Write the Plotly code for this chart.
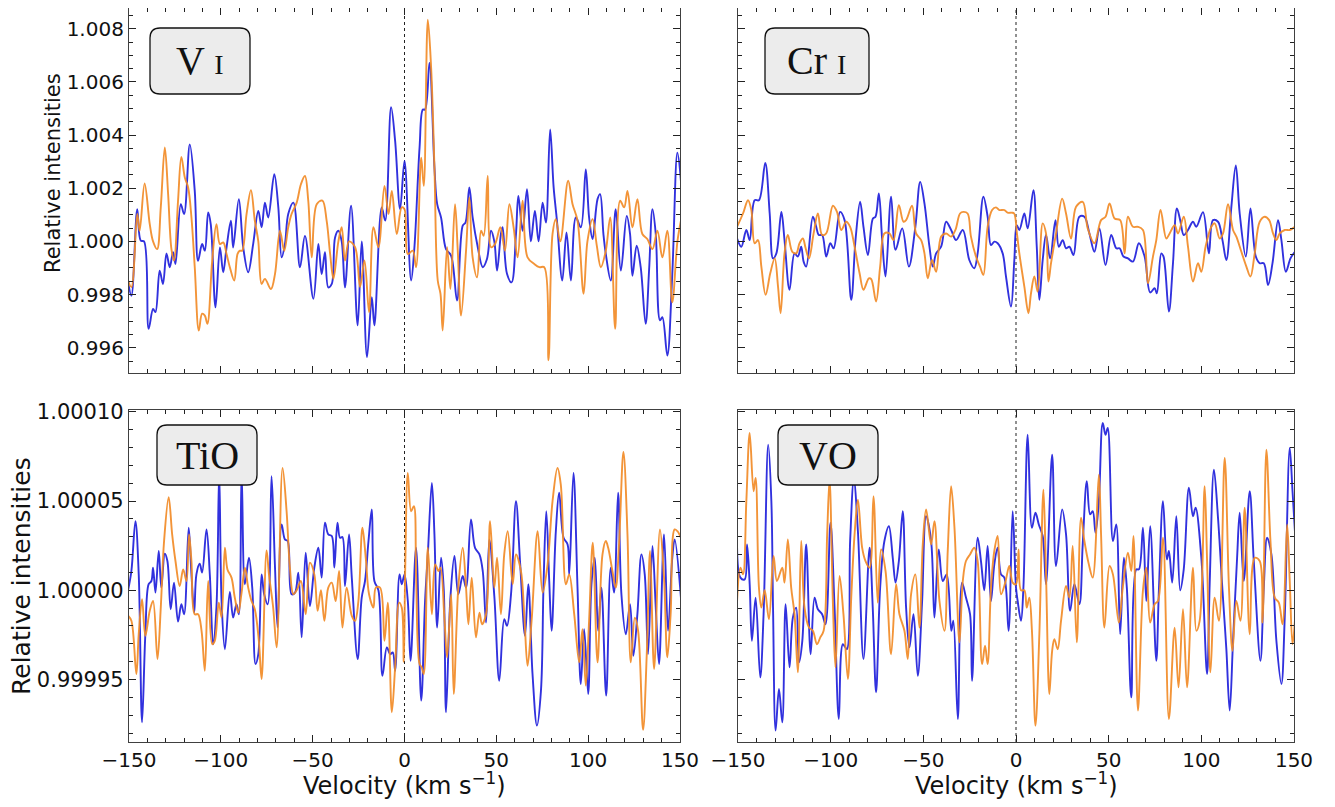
import plotly.graph_objects as go

# ---------------- data: (velocity km/s, relative intensity) ----------------
vi_blue = [(-150.5, 0.99850), (-148.7, 0.99796), (-145.5, 1.00121), (-143.6, 1.00003), (-141.8, 1.00000),
           (-139.3, 0.99671), (-136.9, 0.99746), (-135.6, 0.99734), (-133.3, 0.99890), (-131.5, 0.99840),
           (-129.6, 0.99955), (-127.8, 0.99903), (-126.0, 0.99959), (-124.7, 0.99915), (-121.8, 1.00140),
           (-120.0, 1.00103), (-116.9, 1.00365), (-114.2, 1.00190), (-112.4, 0.99927), (-110.2, 0.99990),
           (-108.7, 0.99965), (-106.9, 1.00109), (-105.5, 1.00065), (-102.9, 0.99752), (-100.5, 0.99977),
           (-98.7, 0.99884), (-96.9, 0.99977), (-94.5, 1.00078), (-93.3, 0.99977), (-90.2, 1.00159),
           (-87.8, 0.99977), (-85.1, 0.99884), (-82.4, 0.99990), (-79.6, 1.00115), (-77.8, 1.00053),
           (-76.0, 1.00146), (-74.2, 1.00090), (-70.9, 1.00253), (-68.7, 1.00128), (-66.9, 0.99940),
           (-65.1, 0.99990), (-63.3, 1.00103), (-60.5, 1.00146), (-56.9, 0.99903), (-54.2, 1.00021),
           (-49.6, 0.99784), (-46.9, 0.99990), (-45.1, 0.99877), (-43.3, 0.99959), (-41.5, 0.99827),
           (-39.6, 0.99840), (-37.8, 1.00015), (-36.0, 1.00040), (-34.2, 1.00000), (-32.4, 0.99827),
           (-29.1, 1.00134), (-25.5, 0.99684), (-23.3, 1.00000), (-20.4, 0.99565), (-17.8, 0.99790),
           (-16.4, 0.99684), (-12.4, 1.00128), (-10.5, 1.00078), (-7.3, 1.00505), (-5.1, 1.00378),
           (-2.4, 1.00121), (0.0, 1.00303), (3.6, 0.99853), (5.4, 0.99978), (8.2, 1.00353),
           (10.0, 1.00496), (11.2, 1.00496), (13.6, 1.00671), (16.3, 1.00278), (17.8, 1.00140),
           (19.9, 1.00090), (22.6, 0.99971), (25.4, 0.99946), (28.6, 0.99778), (31.7, 1.00059),
           (33.2, 1.00071), (35.3, 1.00203), (37.1, 1.00090), (39.9, 0.99978), (42.6, 0.99903),
           (44.9, 0.99934), (47.1, 1.00040), (48.9, 1.00000), (50.4, 0.99890), (52.5, 1.00028),
           (53.4, 1.00053), (55.8, 0.99878), (58.3, 0.99846), (60.7, 1.00028), (62.0, 1.00171),
           (64.3, 1.00040), (66.7, 1.00196), (68.8, 1.00000), (71.0, 1.00115), (73.0, 1.00000),
           (75.2, 1.00146), (77.0, 1.00071), (79.3, 1.00421), (81.2, 1.00203), (83.0, 1.00078),
           (85.9, 0.99853), (88.2, 1.00034), (90.6, 0.99853), (93.3, 1.00090), (96.0, 1.00053),
           (98.7, 1.00271), (100.5, 1.00090), (102.4, 1.00009), (105.1, 1.00159), (106.5, 1.00178),
           (108.3, 1.00028), (109.6, 0.99953), (112.3, 0.99853), (115.0, 1.00121), (117.8, 0.99890),
           (121.0, 1.00096), (122.8, 1.00028), (124.1, 0.99871), (126.4, 0.99984), (128.6, 0.99903),
           (131.3, 0.99690), (133.2, 0.99896), (135.0, 1.00121), (136.8, 1.00028), (139.1, 0.99703),
           (140.4, 0.99715), (143.1, 0.99571), (145.8, 0.99878), (148.6, 1.00334), (150.5, 1.00228)]

vi_orange = [(-150.5, 0.99853), (-148.7, 0.99828), (-145.5, 1.00103), (-144.2, 1.00040), (-141.5, 1.00218),
             (-138.7, 1.00065), (-136.9, 1.00000), (-134.7, 0.99971), (-132.7, 1.00128), (-130.5, 1.00353),
             (-128.7, 1.00178), (-126.9, 0.99971), (-125.5, 0.99928), (-123.3, 1.00153), (-121.5, 1.00318),
             (-119.6, 1.00240), (-117.8, 1.00203), (-116.0, 1.00090), (-114.2, 0.99903), (-112.0, 0.99665),
             (-110.2, 0.99728), (-108.7, 0.99721), (-107.3, 0.99690), (-104.7, 0.99928), (-102.4, 1.00065),
             (-100.5, 0.99990), (-98.7, 0.99996), (-96.9, 0.99953), (-95.1, 0.99903), (-92.7, 0.99853),
             (-90.9, 0.99953), (-89.6, 0.99965), (-88.4, 0.99965), (-86.0, 1.00103), (-83.6, 1.00193),
             (-81.5, 1.00078), (-79.6, 1.00000), (-77.8, 0.99840), (-76.0, 0.99859), (-72.7, 0.99821),
             (-70.5, 0.99878), (-67.8, 1.00040), (-65.5, 0.99965), (-63.3, 1.00053), (-61.5, 1.00103),
             (-58.7, 1.00146), (-56.4, 1.00215), (-54.2, 1.00246), (-52.4, 1.00153), (-50.5, 0.99940),
             (-47.8, 1.00140), (-44.7, 1.00153), (-42.4, 1.00078), (-40.5, 0.99953), (-38.7, 0.99859),
             (-36.0, 1.00000), (-34.2, 1.00053), (-32.4, 0.99928), (-30.2, 1.00000), (-26.9, 0.99978),
             (-24.2, 0.99828), (-21.8, 0.99928), (-19.3, 0.99734), (-16.9, 1.00053), (-14.2, 0.99978),
             (-10.9, 1.00209), (-8.7, 1.00103), (-6.9, 1.00190), (-4.2, 1.00028), (-1.5, 1.00128),
             (0.0, 1.00121), (1.8, 0.99953), (4.5, 0.99965), (6.3, 0.99903), (9.1, 1.00315),
             (10.5, 1.00209), (12.7, 1.00834), (14.5, 1.00653), (16.3, 1.00278), (18.1, 0.99853),
             (19.6, 0.99803), (20.8, 0.99665), (23.2, 0.99978), (25.0, 0.99821), (27.5, 1.00140),
             (29.0, 0.99965), (30.8, 0.99721), (33.5, 0.99965), (35.3, 1.00165), (37.1, 0.99940),
             (39.5, 0.99865), (41.7, 1.00040), (43.1, 1.00021), (45.3, 1.00246), (47.1, 0.99978),
             (49.3, 0.99990), (52.2, 1.00053), (54.7, 0.99965), (57.1, 1.00140), (59.4, 1.00053),
             (61.6, 0.99940), (64.3, 1.00153), (67.0, 0.99940), (70.7, 0.99915), (73.4, 0.99903),
             (76.1, 0.99903), (78.4, 0.99553), (80.6, 1.00028), (82.4, 1.00084), (84.8, 1.00000),
             (89.1, 1.00228), (91.5, 1.00140), (94.2, 1.00078), (97.5, 0.99803), (99.6, 1.00000),
             (102.4, 1.00084), (104.7, 0.99984), (106.9, 0.99903), (109.6, 0.99965), (112.0, 1.00090),
             (114.7, 0.99671), (117.4, 1.00153), (119.6, 1.00128), (121.4, 1.00190), (124.1, 1.00053),
             (126.8, 1.00159), (129.5, 1.00028), (132.2, 1.00009), (135.0, 0.99971), (137.7, 1.00040),
             (140.4, 0.99940), (143.1, 1.00040), (145.8, 0.99771), (148.6, 1.00000), (150.5, 1.00078)]

cr_blue = [(-150.5, 1.00011), (-148.2, 0.99980), (-145.5, 1.00043), (-143.7, 1.00005), (-141.0, 1.00155),
           (-138.7, 1.00155), (-135.3, 1.00295), (-132.9, 1.00105), (-131.1, 0.99936), (-129.3, 0.99955),
           (-126.6, 1.00111), (-124.9, 1.00005), (-122.2, 0.99818), (-119.5, 0.99955), (-117.7, 0.99943),
           (-115.9, 0.99980), (-114.6, 0.99924), (-113.2, 0.99905), (-109.6, 1.00093), (-107.8, 1.00055),
           (-106.4, 1.00024), (-104.6, 1.00024), (-102.4, 0.99943), (-100.2, 0.99993), (-98.4, 0.99974),
           (-94.9, 1.00111), (-92.5, 1.00080), (-88.9, 0.99780), (-86.6, 1.00005), (-84.1, 1.00149),
           (-82.3, 1.00055), (-79.9, 0.99949), (-77.2, 1.00086), (-75.8, 1.00093), (-74.0, 1.00180),
           (-72.2, 1.00005), (-70.4, 0.99868), (-67.4, 1.00168), (-65.0, 0.99968), (-61.4, 1.00049),
           (-57.8, 0.99905), (-54.3, 1.00055), (-51.7, 1.00224), (-49.4, 1.00143), (-46.7, 0.99980),
           (-44.9, 0.99905), (-43.1, 0.99955), (-40.4, 0.99980), (-37.7, 1.00074), (-35.0, 1.00043),
           (-32.3, 1.00005), (-28.7, 1.00043), (-25.2, 0.99930), (-22.5, 0.99899), (-20.7, 0.99955),
           (-17.6, 1.00168), (-15.3, 1.00093), (-13.5, 0.99986), (-11.7, 0.99999), (-9.9, 0.99993),
           (-7.2, 0.99955), (-5.4, 0.99868), (-2.7, 0.99755), (-0.9, 0.99930), (0.4, 1.00061),
           (1.8, 1.00043), (4.5, 1.00105), (6.3, 1.00049), (9.4, 1.00193), (11.2, 0.99980),
           (12.6, 0.99780), (14.4, 0.99930), (16.2, 1.00024), (18.4, 0.99936), (21.3, 1.00080),
           (23.1, 0.99980), (25.2, 1.00005), (27.0, 0.99974), (28.8, 0.99980), (31.0, 0.99949),
           (34.2, 1.00093), (36.9, 1.00093), (39.6, 1.00030), (42.3, 0.99961), (45.0, 1.00049),
           (48.3, 0.99911), (51.4, 1.00024), (54.1, 0.99974), (55.9, 0.99974), (58.0, 0.99943),
           (60.4, 0.99936), (63.1, 0.99924), (66.3, 0.99993), (69.4, 0.99943), (72.4, 0.99808),
           (74.8, 0.99824), (76.0, 0.99805), (78.4, 0.99955), (79.6, 0.99943), (82.5, 0.99736),
           (84.7, 0.99918), (86.8, 1.00124), (88.6, 1.00080), (90.5, 1.00024), (92.8, 1.00043),
           (95.5, 1.00074), (97.3, 1.00055), (100.9, 1.00110), (104.1, 0.99955), (106.3, 1.00080),
           (109.0, 1.00074), (111.4, 1.00005), (113.5, 0.99930), (116.2, 1.00130), (118.6, 1.00286),
           (120.7, 1.00105), (124.0, 0.99943), (126.5, 1.00124), (129.4, 0.99943), (131.5, 0.99918),
           (133.7, 0.99918), (136.0, 0.99836), (138.4, 0.99918), (141.4, 1.00080), (143.2, 1.00005),
           (145.6, 0.99886), (148.1, 0.99936), (150.5, 0.99961)]

cr_orange = [(-150.5, 1.00055), (-147.3, 1.00105), (-144.6, 1.00155), (-142.8, 1.00118), (-141.0, 0.99993),
             (-139.2, 1.00005), (-137.4, 0.99905), (-135.1, 0.99799), (-132.6, 0.99880), (-130.2, 0.99936),
             (-128.4, 0.99830), (-127.0, 0.99730), (-124.9, 0.99955), (-123.1, 1.00024), (-120.7, 0.99961),
             (-118.6, 0.99955), (-116.8, 0.99993), (-115.0, 1.00011), (-113.5, 0.99974), (-111.7, 0.99936),
             (-109.2, 1.00030), (-106.9, 1.00105), (-104.6, 1.00024), (-102.4, 1.00030), (-98.8, 1.00134),
             (-96.6, 1.00111), (-94.3, 1.00043), (-91.6, 1.00074), (-89.5, 1.00055), (-87.1, 0.99980),
             (-84.4, 0.99880), (-82.3, 0.99818), (-79.4, 0.99861), (-78.1, 0.99858), (-75.5, 0.99774),
             (-73.3, 0.99905), (-71.0, 1.00030), (-68.3, 1.00030), (-66.1, 1.00005), (-63.2, 1.00136),
             (-60.7, 1.00074), (-59.3, 1.00080), (-56.1, 1.00134), (-53.9, 1.00030), (-51.2, 1.00005),
             (-49.4, 0.99955), (-47.6, 0.99861), (-45.3, 0.99930), (-43.1, 0.99886), (-40.4, 1.00018),
             (-37.7, 1.00030), (-35.0, 1.00018), (-32.7, 1.00043), (-30.2, 1.00105), (-28.4, 1.00111),
             (-26.1, 1.00105), (-24.3, 1.00018), (-21.6, 0.99943), (-19.4, 0.99905), (-17.6, 0.99874),
             (-15.3, 1.00055), (-12.9, 1.00118), (-10.8, 1.00128), (-9.0, 1.00118), (-6.3, 1.00118),
             (-4.5, 1.00108), (-2.2, 1.00108), (-1.0, 1.00105), (0.5, 1.00030), (1.8, 0.99955),
             (4.5, 0.99830), (6.7, 0.99730), (8.1, 0.99805), (9.9, 0.99868), (11.7, 0.99811),
             (14.4, 1.00068), (16.2, 1.00030), (17.5, 0.99849), (18.9, 0.99918), (21.6, 1.00030),
             (24.9, 1.00161), (27.0, 1.00105), (29.7, 1.00011), (32.4, 1.00130), (36.0, 1.00149),
             (38.7, 1.00049), (42.3, 0.99993), (45.9, 1.00080), (48.3, 1.00093), (50.5, 1.00143),
             (53.2, 1.00086), (56.2, 1.00080), (58.6, 0.99955), (60.4, 1.00093), (63.1, 1.00055),
             (65.8, 1.00055), (68.5, 1.00043), (71.2, 0.99843), (73.9, 0.99943), (75.7, 1.00005),
             (78.0, 1.00118), (81.1, 1.00011), (82.9, 1.00030), (85.6, 1.00061), (87.4, 1.00030),
             (90.5, 1.00093), (92.8, 0.99980), (95.5, 0.99849), (98.2, 0.99918), (100.0, 0.99886),
             (102.3, 0.99980), (105.4, 1.00055), (107.2, 1.00068), (109.9, 1.00011), (111.7, 1.00030),
             (114.4, 1.00140), (117.1, 1.00043), (118.9, 1.00018), (121.6, 0.99961), (124.3, 0.99905),
             (126.5, 0.99868), (128.8, 0.99955), (131.5, 1.00074), (134.2, 1.00093), (136.6, 1.00080),
             (138.7, 1.00030), (140.5, 1.00005), (142.3, 1.00030), (145.0, 1.00043), (147.7, 1.00043),
             (150.5, 1.00055)]

tio_blue = [(-150.5, 1.0000000), (-148.7, 1.0000108), (-146.5, 1.0000387), (-144.7, 1.0000089), (-142.9, 0.9999261),
            (-141.1, 0.9999754), (-139.3, 1.0000034), (-137.8, 1.0000052), (-136.9, 1.0000127), (-135.6, 0.9999987),
            (-133.8, 1.0000220), (-132.4, 1.0000015), (-130.5, 1.0000205), (-129.1, 1.0000164), (-127.3, 0.9999894),
            (-125.5, 1.0000043), (-123.3, 0.9999825), (-121.5, 0.9999922), (-120.0, 0.9999866), (-117.5, 1.0000350),
            (-116.0, 1.0000089), (-114.5, 0.9999875), (-113.3, 1.0000089), (-111.5, 1.0000149), (-110.2, 1.0000099),
            (-107.8, 1.0000341), (-106.0, 1.0000089), (-104.2, 0.9999698), (-102.4, 0.9999903), (-100.9, 1.0000660),
            (-99.6, 0.9999940), (-97.8, 0.9999670), (-95.1, 0.9999990), (-93.3, 0.9999847), (-91.5, 0.9999922),
            (-90.2, 0.9999866), (-88.7, 1.0000660), (-86.9, 1.0000034), (-84.7, 1.0000182), (-82.9, 1.0000015),
            (-81.1, 0.9999587), (-79.6, 0.9999642), (-77.8, 1.0000089), (-76.4, 0.9999978), (-74.5, 0.9999922),
            (-72.4, 1.0000639), (-70.5, 1.0000127), (-69.1, 0.9999791), (-66.9, 1.0000369), (-65.1, 1.0000285),
            (-63.6, 1.0000276), (-61.5, 0.9999978), (-59.6, 0.9999987), (-57.8, 1.0000099), (-56.0, 0.9999736),
            (-53.8, 1.0000210), (-51.5, 0.9999912), (-49.1, 1.0000127), (-46.9, 1.0000238), (-45.1, 1.0000071),
            (-43.3, 1.0000378), (-41.5, 1.0000313), (-39.6, 1.0000304), (-38.2, 1.0000127), (-36.5, 1.0000378),
            (-35.1, 1.0000294), (-33.8, 1.0000298), (-32.4, 1.0000024), (-30.2, 1.0000313), (-28.7, 1.0000071),
            (-25.5, 0.9999615), (-23.3, 0.9999959), (-21.5, 1.0000052), (-19.6, 1.0000276), (-17.8, 1.0000453),
            (-16.4, 1.0000052), (-14.2, 1.0000000), (-12.0, 0.9999521), (-9.6, 0.9999680), (-7.8, 0.9999642),
            (-6.4, 0.9999652), (-5.1, 0.9999549), (-2.7, 1.0000089), (-1.5, 1.0000034), (0.0, 1.0000089),
            (1.8, 0.9999940), (3.3, 0.9999605), (6.3, 1.0000238), (9.1, 0.9999382), (11.2, 0.9999940),
            (12.7, 1.0000201), (14.9, 1.0000601), (16.3, 1.0000313), (17.8, 0.9999791), (19.9, 1.0000182),
            (21.4, 1.0000000), (22.6, 0.9999317), (25.0, 0.9999959), (27.2, 1.0000192), (29.3, 0.9999978),
            (31.7, 1.0000080), (33.5, 1.0000015), (36.2, 1.0000397), (38.4, 1.0000238), (40.8, 1.0000201),
            (42.6, 1.0000108), (44.4, 0.9999819), (46.2, 1.0000285), (48.9, 0.9999968), (51.6, 0.9999493),
            (54.3, 0.9999838), (55.8, 0.9999801), (58.0, 0.9999978), (60.7, 1.0000499), (63.0, 1.0000145),
            (65.6, 0.9999745), (67.4, 1.0000034), (69.7, 0.9999531), (72.1, 0.9999242), (74.3, 0.9999438),
            (75.7, 1.0000034), (77.2, 1.0000443), (78.8, 1.0000052), (80.1, 0.9999773), (82.4, 1.0000331),
            (84.2, 1.0000546), (86.6, 1.0000294), (88.8, 1.0000257), (89.7, 1.0000089), (92.0, 1.0000657),
            (94.2, 1.0000015), (96.0, 0.9999475), (97.8, 0.9999782), (100.0, 0.9999419), (101.8, 1.0000034),
            (103.6, 1.0000182), (105.4, 0.9999773), (107.2, 1.0000015), (109.8, 0.9999410), (112.3, 1.0000127),
            (114.1, 0.9999987), (116.3, 1.0000546), (118.1, 0.9999978), (120.5, 0.9999754), (122.8, 0.9999922),
            (124.6, 0.9999633), (126.8, 0.9999866), (129.0, 1.0000201), (130.8, 1.0000089), (132.6, 0.9999642),
            (135.0, 1.0000248), (136.8, 0.9999903), (138.6, 0.9999587), (141.3, 1.0000313), (143.5, 0.9999773),
            (145.8, 1.0000182), (147.1, 1.0000285), (150.5, 0.9999959)]

tio_orange = [(-150.5, 0.9999857), (-148.7, 0.9999829), (-146.0, 0.9999531), (-144.7, 0.9999754), (-142.9, 0.9999950),
              (-141.1, 0.9999745), (-138.7, 0.9999885), (-136.9, 0.9999940), (-134.5, 0.9999615), (-132.7, 0.9999903),
              (-130.9, 1.0000276), (-128.4, 1.0000521), (-126.5, 1.0000313), (-124.7, 1.0000164), (-122.4, 1.0000024),
              (-120.5, 1.0000117), (-118.7, 1.0000052), (-117.3, 1.0000313), (-116.0, 1.0000164), (-114.2, 0.9999866),
              (-112.4, 0.9999866), (-110.5, 0.9999773), (-108.7, 0.9999549), (-106.9, 1.0000052), (-104.7, 0.9999698),
              (-103.3, 0.9999717), (-101.1, 0.9999931), (-99.6, 0.9999847), (-97.8, 1.0000238), (-96.4, 1.0000117),
              (-94.2, 1.0000071), (-92.4, 0.9999959), (-90.5, 0.9999875), (-88.7, 0.9999987), (-86.9, 1.0000127),
              (-85.1, 1.0000015), (-83.3, 0.9999940), (-81.5, 0.9999894), (-79.3, 0.9999717), (-77.8, 0.9999503),
              (-75.1, 1.0000223), (-73.8, 1.0000089), (-71.5, 0.9999903), (-69.6, 0.9999680), (-66.4, 1.0000685),
              (-64.2, 1.0000443), (-62.4, 1.0000127), (-60.5, 0.9999978), (-58.7, 1.0000000), (-56.4, 1.0000052),
              (-53.8, 0.9999866), (-51.5, 1.0000155), (-49.1, 1.0000089), (-47.3, 0.9999885), (-45.5, 1.0000000),
              (-43.6, 0.9999829), (-41.5, 1.0000015), (-39.6, 1.0000043), (-37.5, 0.9999940), (-35.6, 1.0000108),
              (-33.8, 0.9999791), (-31.5, 1.0000015), (-28.7, 0.9999857), (-26.9, 0.9999829), (-25.1, 0.9999940),
              (-22.9, 1.0000350), (-21.1, 1.0000182), (-19.3, 0.9999978), (-16.9, 0.9999903), (-15.6, 1.0000015),
              (-13.3, 1.0000015), (-10.9, 0.9999717), (-9.1, 0.9999931), (-6.9, 0.9999317), (-5.1, 0.9999568),
              (-2.9, 0.9999931), (-1.5, 0.9999903), (-0.4, 0.9999600), (0.4, 1.0000127), (1.8, 1.0000657),
              (3.6, 1.0000443), (5.1, 1.0000471), (6.3, 1.0000089), (8.2, 0.9999587), (9.4, 0.9999568),
              (10.5, 0.9999531), (12.7, 1.0000238), (14.9, 0.9999866), (16.7, 1.0000145), (18.5, 1.0000108),
              (19.6, 1.0000127), (21.7, 0.9999847), (23.2, 0.9999624), (25.4, 0.9999978), (26.8, 0.9999419),
              (29.3, 1.0000015), (31.7, 1.0000238), (33.5, 1.0000015), (34.8, 0.9999810), (36.6, 1.0000071),
              (38.9, 0.9999736), (40.8, 0.9999875), (42.2, 0.9999810), (44.4, 0.9999866), (46.6, 1.0000387),
              (48.9, 1.0000015), (50.4, 1.0000182), (52.5, 0.9999866), (54.3, 1.0000201), (56.2, 1.0000331),
              (58.9, 1.0000034), (60.7, 1.0000201), (63.4, 1.0000108), (65.2, 0.9999866), (67.0, 0.9999577),
              (69.2, 0.9999829), (72.5, 1.0000331), (75.2, 0.9999987), (77.9, 1.0000145), (80.6, 1.0000499),
              (83.3, 1.0000685), (85.1, 1.0000592), (87.9, 1.0000034), (89.7, 1.0000089), (92.4, 0.9999866),
              (95.1, 0.9999596), (96.9, 0.9999782), (98.7, 0.9999466), (100.5, 0.9999829), (102.5, 1.0000266),
              (105.1, 0.9999596), (107.8, 1.0000201), (109.6, 1.0000276), (110.9, 1.0000238), (113.2, 1.0000108),
              (115.0, 1.0000015), (116.8, 1.0000257), (119.2, 1.0000775), (121.4, 1.0000313), (123.2, 0.9999596),
              (125.4, 0.9999847), (127.2, 0.9999773), (129.9, 0.9999218), (131.9, 0.9999642), (133.7, 1.0000220),
              (135.9, 0.9999559), (139.1, 1.0000341), (141.3, 1.0000071), (143.1, 0.9999624), (144.9, 0.9999866),
              (147.1, 1.0000341), (148.6, 1.0000331), (150.5, 1.0000294)]

vo_blue = [(-150.5, 1.0000238), (-148.7, 1.0000071), (-146.4, 1.0000061), (-145.1, 1.0000257), (-143.7, 1.0000034),
           (-142.5, 0.9999717), (-140.5, 0.9999959), (-138.0, 0.9999512), (-136.2, 0.9999866), (-133.7, 1.0000816),
           (-132.0, 1.0000499), (-131.1, 0.9999903), (-129.7, 0.9999214), (-127.9, 0.9999447), (-126.1, 0.9999261),
           (-124.3, 0.9999922), (-122.2, 0.9999568), (-120.4, 0.9999847), (-118.6, 0.9999903), (-117.1, 0.9999596),
           (-115.3, 0.9999717), (-113.2, 1.0000257), (-110.8, 0.9999642), (-108.7, 0.9999959), (-106.9, 0.9999894),
           (-104.6, 0.9999866), (-102.8, 0.9999810), (-100.1, 1.0000378), (-97.9, 0.9999903), (-95.6, 0.9999279),
           (-93.4, 0.9999698), (-91.3, 0.9999670), (-89.5, 1.0000276), (-87.5, 1.0000620), (-85.3, 1.0000331),
           (-82.3, 0.9999615), (-79.0, 1.0000238), (-77.3, 0.9999903), (-75.5, 0.9999428), (-73.3, 1.0000015),
           (-71.0, 1.0000276), (-68.6, 1.0000359), (-66.5, 1.0000182), (-65.0, 1.0000043), (-63.2, 1.0000164),
           (-61.1, 1.0000443), (-59.3, 0.9999903), (-57.5, 0.9999680), (-55.3, 0.9999866), (-53.0, 0.9999521),
           (-50.7, 0.9999931), (-48.5, 1.0000415), (-45.8, 1.0000276), (-44.0, 0.9999847), (-41.7, 1.0000229),
           (-39.5, 1.0000052), (-37.4, 1.0000089), (-34.9, 0.9999773), (-33.8, 0.9999829), (-31.4, 0.9999279),
           (-29.1, 1.0000043), (-27.0, 0.9999959), (-24.8, 0.9999866), (-23.7, 0.9999493), (-20.7, 1.0000294),
           (-18.9, 1.0000164), (-17.1, 1.0000000), (-15.3, 1.0000248), (-13.5, 0.9999940), (-11.7, 1.0000145),
           (-9.9, 1.0000238), (-8.1, 1.0000089), (-6.3, 1.0000071), (-4.0, 0.9999773), (-1.8, 1.0000443),
           (0.0, 1.0000015), (0.9, 0.9999940), (2.7, 0.9999829), (4.0, 1.0000015), (6.3, 1.0000871),
           (8.6, 1.0000350), (10.5, 1.0000434), (12.3, 1.0000369), (14.4, 1.0000304), (16.2, 1.0000034),
           (19.5, 1.0000760), (21.6, 1.0000136), (24.9, 1.0000453), (27.0, 1.0000313), (29.2, 0.9999885),
           (31.5, 1.0000034), (34.2, 0.9999922), (36.0, 1.0000257), (38.2, 1.0000611), (40.0, 1.0000425),
           (41.4, 1.0000443), (42.9, 1.0000322), (44.7, 1.0000499), (46.8, 1.0000937), (48.3, 1.0000871),
           (49.5, 1.0000909), (52.3, 1.0000276), (54.1, 1.0000369), (56.2, 0.9999754), (58.2, 1.0000182),
           (59.8, 1.0000015), (62.2, 0.9999400), (64.9, 1.0000117), (66.3, 1.0000117), (68.5, 1.0000350),
           (70.3, 0.9999940), (72.4, 1.0000359), (75.7, 0.9999605), (77.1, 1.0000000), (79.3, 1.0000499),
           (81.4, 1.0000173), (82.5, 1.0000220), (84.3, 1.0000043), (86.5, 1.0000415), (88.6, 1.0000000),
           (90.5, 1.0000117), (93.3, 1.0000574), (95.5, 1.0000415), (96.9, 1.0000462), (100.0, 1.0000182),
           (103.1, 0.9999531), (104.5, 1.0000034), (106.8, 1.0000676), (109.0, 1.0000406), (111.4, 1.0000000),
           (113.5, 0.9999670), (115.3, 0.9999326), (117.1, 0.9999717), (119.3, 1.0000182), (120.7, 1.0000434),
           (122.9, 1.0000052), (126.1, 1.0000555), (128.3, 1.0000164), (131.9, 0.9999605), (133.7, 1.0000015),
           (135.5, 1.0000294), (137.8, 1.0000201), (140.5, 0.9999717), (143.2, 0.9999475), (145.0, 0.9999847),
           (147.7, 1.0000797), (149.2, 1.0000555), (150.5, 1.0000331)]

vo_orange = [(-150.5, 0.9999940), (-148.7, 1.0000127), (-147.3, 1.0000089), (-145.5, 1.0000499), (-143.7, 1.0000881),
             (-141.6, 1.0000555), (-140.5, 1.0000629), (-138.7, 1.0000015), (-137.4, 0.9999903), (-135.6, 1.0000000),
             (-133.3, 0.9999838), (-130.8, 1.0000192), (-129.0, 1.0000052), (-126.1, 1.0000127), (-124.9, 1.0000043),
             (-123.1, 1.0000285), (-121.3, 1.0000015), (-119.5, 0.9999866), (-117.7, 0.9999540), (-115.9, 1.0000276),
             (-114.1, 0.9999903), (-111.7, 0.9999791), (-109.6, 0.9999773), (-107.4, 0.9999698), (-105.6, 0.9999736),
             (-103.8, 0.9999773), (-101.9, 1.0000313), (-100.6, 1.0000620), (-98.8, 0.9999931), (-97.4, 0.9999568),
             (-95.2, 1.0000080), (-93.1, 0.9999866), (-90.7, 0.9999503), (-88.9, 0.9999959), (-87.1, 1.0000313),
             (-85.3, 1.0000508), (-83.0, 1.0000238), (-81.2, 1.0000164), (-79.0, 1.0000127), (-76.9, 1.0000527),
             (-74.6, 0.9999931), (-72.8, 1.0000229), (-70.4, 1.0000108), (-67.4, 0.9999642), (-64.7, 1.0000034),
             (-62.9, 0.9999866), (-60.2, 0.9999773), (-58.4, 0.9999615), (-56.6, 0.9999978), (-54.3, 1.0000089),
             (-52.1, 0.9999791), (-50.3, 1.0000257), (-48.5, 1.0000453), (-45.8, 1.0000257), (-44.0, 1.0000387),
             (-41.3, 0.9999940), (-38.6, 0.9999773), (-36.8, 1.0000229), (-35.0, 1.0000583), (-33.2, 1.0000350),
             (-30.5, 0.9999708), (-28.7, 1.0000052), (-27.0, 1.0000164), (-24.8, 1.0000201), (-22.5, 1.0000238),
             (-20.7, 1.0000164), (-18.3, 0.9999587), (-16.7, 0.9999689), (-15.3, 0.9999587), (-13.5, 1.0000015),
             (-11.7, 1.0000220), (-9.9, 1.0000304), (-8.1, 0.9999978), (-5.8, 1.0000043), (-3.6, 1.0000136),
             (-1.8, 1.0000043), (0.0, 1.0000034), (1.4, 1.0000229), (2.7, 1.0000000), (4.5, 1.0000000),
             (5.8, 0.9999903), (7.2, 0.9999959), (8.6, 0.9999773), (10.5, 0.9999242), (12.6, 0.9999754),
             (14.8, 1.0000564), (16.2, 1.0000089), (18.0, 0.9999419), (19.5, 0.9999661), (20.7, 0.9999726),
             (22.5, 0.9999670), (24.3, 0.9999829), (27.0, 1.0000024), (28.8, 0.9999959), (30.6, 1.0000248),
             (32.8, 0.9999708), (35.1, 1.0000406), (36.9, 1.0000276), (39.3, 1.0000145), (41.4, 1.0000071),
             (44.7, 1.0000648), (45.9, 1.0000313), (47.7, 0.9999791), (50.5, 1.0000136), (52.3, 1.0000089),
             (55.5, 0.9999819), (57.7, 1.0000024), (60.4, 1.0000210), (62.2, 1.0000108), (63.4, 1.0000304),
             (65.8, 0.9999326), (68.5, 1.0000000), (70.3, 1.0000127), (72.4, 0.9999819), (74.8, 0.9999922),
             (76.6, 0.9999940), (79.3, 1.0000294), (82.5, 0.9999279), (85.6, 0.9999791), (87.7, 0.9999456),
             (90.1, 0.9999894), (92.3, 0.9999456), (95.5, 1.0000127), (97.3, 0.9999773), (99.1, 0.9999829),
             (101.8, 1.0000583), (103.1, 1.0000164), (104.9, 0.9999540), (107.2, 0.9999959), (109.5, 0.9999829),
             (112.6, 1.0000741), (114.9, 1.0000015), (116.8, 0.9999661), (118.9, 0.9999940), (121.1, 0.9999829),
             (123.4, 1.0000462), (126.1, 0.9999754), (128.8, 1.0000182), (131.5, 1.0000164), (133.0, 0.9999819),
             (135.1, 1.0000788), (137.3, 1.0000276), (139.6, 0.9999959), (141.8, 0.9999931), (143.8, 0.9999810),
             (146.3, 1.0000369), (147.7, 1.0000052), (149.2, 0.9999698), (150.5, 0.9999829)]

panel_labels = ["V <span style='font-size:28px'>I</span>", "Cr <span style='font-size:28px'>I</span>", "TiO", "VO"]
x_ticks = [-150, -100, -50, 0, 50, 100, 150]
top_ticks = [0.996, 0.998, 1.000, 1.002, 1.004, 1.006, 1.008]
top_ticktext = ["0.996", "0.998", "1.000", "1.002", "1.004", "1.006", "1.008"]
bot_ticks = [0.99995, 1.00000, 1.00005, 1.00010]
bot_ticktext = ["0.99995", "1.00000", "1.00005", "1.00010"]
x_title = "Velocity (km s<sup>\u22121</sup>)"
y_title = "Relative intensities"

# ---------------- layout geometry (page pixels; body has an 8px margin) ----------------
OFF = 8
W, H = 1335 - 2 * OFF, 807 - 2 * OFF
BLUE = "#2020dc"
ORANGE = "#f28c28"
FRAME = "#404040"


def px_x(p):
    return (p - OFF) / W


def px_y(p):
    return 1 - (p - OFF) / H


dom_x = {1: [px_x(129), px_x(680)], 2: [px_x(738), px_x(1294)]}
dom_y = {1: [px_y(373), min(1.0, px_y(8))], 2: [px_y(742), px_y(410)]}

fig = go.Figure()

panels = [
    (vi_blue, vi_orange, "x", "y", 1, 1),
    (cr_blue, cr_orange, "x2", "y2", 2, 1),
    (tio_blue, tio_orange, "x3", "y3", 1, 2),
    (vo_blue, vo_orange, "x4", "y4", 2, 2),
]

for blue, orange, xa, ya, col, row in panels:
    for ser, color in ((blue, BLUE), (orange, ORANGE)):
        fig.add_trace(go.Scatter(
            x=[p[0] for p in ser], y=[p[1] for p in ser],
            xaxis=xa, yaxis=ya, mode="lines",
            line=dict(color=color, width=1.9, shape="spline", smoothing=1.0),
            opacity=0.92, showlegend=False, hoverinfo="skip"))

axis_common = dict(
    showline=True, linecolor=FRAME, linewidth=1.2, mirror="ticks",
    ticks="inside", ticklen=7, tickwidth=1.2, tickcolor="#222",
    showgrid=False, zeroline=False, automargin=False,
)

layout = dict(
    width=W, height=H, margin=dict(l=0, r=0, t=0, b=0),
    paper_bgcolor="white", plot_bgcolor="white", showlegend=False,
)

for i, (blue, orange, xa, ya, col, row) in enumerate(panels, start=1):
    suffix = "" if i == 1 else str(i)
    xaxis = dict(axis_common, domain=dom_x[col], anchor=ya, range=[-150, 150],
                 tickvals=x_ticks, showticklabels=(row == 2),
                 tickfont=dict(family="DejaVu Sans", size=20, color="#111"),
                 minor=dict(ticks="inside", ticklen=4, tickwidth=1, tickcolor="#222", dtick=10, tick0=0))
    if row == 1:
        yaxis = dict(axis_common, domain=dom_y[row], anchor=xa, range=[0.99505, 1.00878],
                     tickvals=top_ticks, ticktext=top_ticktext,
                     tickfont=dict(family="DejaVu Sans", size=20, color="#111"),
                     minor=dict(ticks="inside", ticklen=4, tickwidth=1, tickcolor="#222", dtick=0.0005, tick0=1.0))
    else:
        yaxis = dict(axis_common, domain=dom_y[row], anchor=xa, range=[0.999915, 1.000101],
                     tickvals=bot_ticks, ticktext=bot_ticktext,
                     tickfont=dict(family="DejaVu Sans", size=21, color="#111"),
                     minor=dict(ticks="inside", ticklen=4, tickwidth=1, tickcolor="#222", dtick=0.00001, tick0=1.0))
    yaxis["showticklabels"] = (col == 1)
    layout["xaxis" + suffix] = xaxis
    layout["yaxis" + suffix] = yaxis

fig.update_layout(**layout)

# dotted zero-velocity lines
for blue, orange, xa, ya, col, row in panels:
    fig.add_shape(type="line", xref=xa, yref=ya + " domain", x0=0, x1=0, y0=0, y1=1,
                  line=dict(color="#222", width=1, dash="dot"), layer="below")

# axis titles
for cx in (404, 1016):
    fig.add_annotation(xref="paper", yref="paper", x=px_x(cx), y=px_y(784), text=x_title,
                       showarrow=False, xanchor="center", yanchor="middle", borderpad=0,
                       font=dict(family="DejaVu Sans", size=24, color="#111"))
fig.add_annotation(xref="paper", yref="paper", x=px_x(53), y=px_y(173), text=y_title, textangle=-90,
                   showarrow=False, xanchor="center", yanchor="middle",
                   font=dict(family="DejaVu Sans", size=21, color="#111"))
fig.add_annotation(xref="paper", yref="paper", x=px_x(21), y=px_y(576), text=y_title, textangle=-90,
                   showarrow=False, xanchor="center", yanchor="middle",
                   font=dict(family="DejaVu Sans", size=25, color="#111"))

# rounded label boxes (pixel geometry) with labels
boxes = [(150, 28, 250, 94), (765, 28, 869, 94), (157, 425, 257, 485), (778, 425, 878, 485)]


def rounded_path(x0, y0, x1, y1, r=10):
    def P(x, y):
        return f"{px_x(x):.5f},{px_y(y):.5f}"
    return (f"M {P(x0 + r, y0)} L {P(x1 - r, y0)} Q {P(x1, y0)} {P(x1, y0 + r)} "
            f"L {P(x1, y1 - r)} Q {P(x1, y1)} {P(x1 - r, y1)} "
            f"L {P(x0 + r, y1)} Q {P(x0, y1)} {P(x0, y1 - r)} "
            f"L {P(x0, y0 + r)} Q {P(x0, y0)} {P(x0 + r, y0)} Z")


for (x0, y0, x1, y1), label in zip(boxes, panel_labels):
    fig.add_shape(type="path", xref="paper", yref="paper", path=rounded_path(x0, y0, x1, y1),
                  fillcolor="#ececec", line=dict(color="#111", width=1.3), layer="above")
    fig.add_annotation(xref="paper", yref="paper", x=px_x((x0 + x1) / 2), y=px_y((y0 + y1) / 2),
                       text=label, showarrow=False, xanchor="center", yanchor="middle",
                       font=dict(family="Liberation Serif", size=40, color="#111"))

fig.write_html("out.html")
